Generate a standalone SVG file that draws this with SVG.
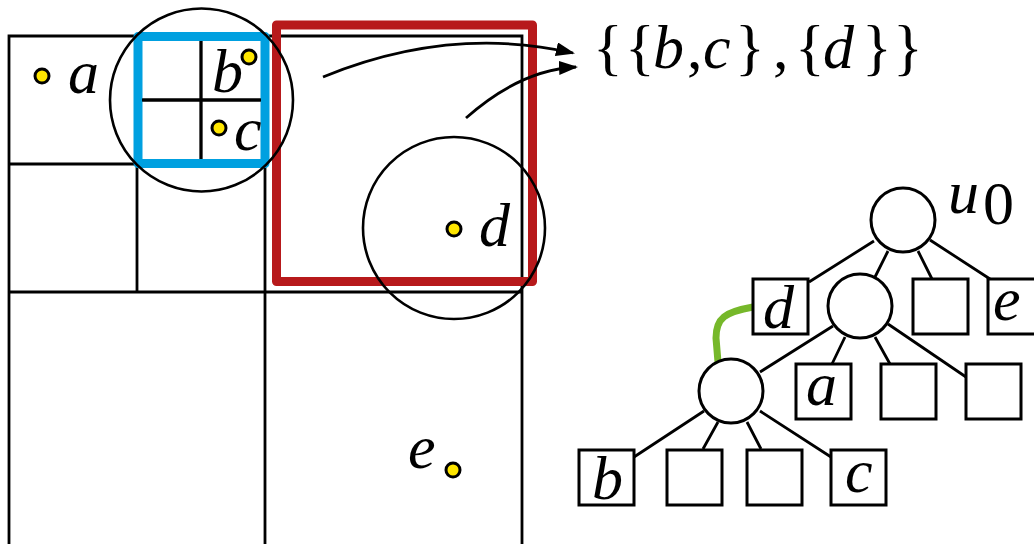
<svg xmlns="http://www.w3.org/2000/svg" width="1034" height="544" viewBox="0 0 1034 544">
<style>
.ln{stroke:#000;stroke-width:2.8;fill:none}
.circ{stroke:#000;stroke-width:2.6;fill:none}
.dot{fill:#ffe600;stroke:#000;stroke-width:3}
.node{fill:#fff;stroke:#000;stroke-width:3}
.edge{stroke:#000;stroke-width:2.8;fill:none}
.m{font-style:italic;font-size:62px;fill:#000}
.r{font-style:normal;font-size:62px;fill:#000}
</style>
<defs>
<marker id="ah" markerUnits="userSpaceOnUse" markerWidth="20" markerHeight="16" refX="17" refY="7" orient="auto">
<path d="M0,0 L19,7 L0,14 Z" fill="#000"/>
</marker>
</defs>
<rect width="1034" height="544" fill="#fff"/>

<g id="grid">
<path class="ln" d="M9,544 V36 H265 M9,164 H265 M137,164 V292 M9,292 H522 M265,36 V544 M265,36 H522 V544 M138,100 H265 M201,36 V164"/>
</g>
<g id="blue-cell">
<rect x="138" y="36.5" width="127" height="127" fill="none" stroke="#00a0e0" stroke-width="9" stroke-linejoin="round"/>
<path class="ln" d="M142,100 H261 M201,41 V159"/>
</g>
<g id="red-cell">
<rect x="276.5" y="25" width="256" height="256.5" fill="none" stroke="#b7191b" stroke-width="9" stroke-linejoin="round"/>
</g>
<g id="query-circles">
<circle class="circ" cx="201.5" cy="100" r="91.5"/>
<circle class="circ" cx="454" cy="228" r="91"/>
</g>
<g font-family="'Liberation Serif', serif">
<g id="points">
<circle class="dot" cx="42" cy="76" r="7"/>
<circle class="dot" cx="249" cy="57" r="7"/>
<circle class="dot" cx="219" cy="128" r="7"/>
<circle class="dot" cx="454" cy="229" r="7"/>
<circle class="dot" cx="453" cy="470" r="7"/>
<text class="m" x="68" y="93">a</text>
<text class="m" x="212" y="92">b</text>
<text class="m" x="234" y="150">c</text>
<text class="m" x="479" y="246">d</text>
<text class="m" x="408" y="468">e</text>
</g>
<g id="result">
<text class="r" y="68"><tspan x="593">{</tspan><tspan x="625">{</tspan><tspan class="m" x="653" font-size="64">b</tspan><tspan x="687">,</tspan><tspan class="m" x="703" font-size="64">c</tspan><tspan x="735">}</tspan><tspan x="773">,</tspan><tspan x="795">{</tspan><tspan class="m" x="823" font-size="64">d</tspan><tspan x="862">}</tspan><tspan x="893">}</tspan></text>
</g>
<g id="arrows">
<path class="edge" d="M323,77 Q450,25 573,53" marker-end="url(#ah)"/>
<path class="edge" d="M466,118 Q520,70 576,67" marker-end="url(#ah)"/>
</g>

<g id="connectors">
<path class="edge" d="M874,241 L809,282 M888,251 L875,277 M918,251 L932,279 M930,240 L990,279"/>
<path class="edge" d="M833,326 L760,372 M845,337 L832,364 M875,337 L890,364 M888,324 L966,377"/>
<path class="edge" d="M704,411 L634,457 M718,422 L703,449 M747,422 L761,449 M760,411 L831,457"/>
<path d="M753,307 C725,312 716,318 716,338 L718,362" fill="none" stroke="#76b82a" stroke-width="7"/>
</g>
<g id="u0">
<circle class="node" cx="903" cy="220" r="32"/>
<text class="m" x="948" y="213" font-size="60">u</text>
<text class="r" x="983" y="224" font-size="36">0</text>
</g>
<g id="leaf-d"><rect class="node" x="753" y="279" width="55" height="55"/><text class="m" x="763" y="328">d</text></g>
<g id="u1"><circle class="node" cx="860" cy="306" r="32"/></g>
<g id="leaf-empty1"><rect class="node" x="913" y="279" width="55" height="55"/></g>
<g id="leaf-e"><rect class="node" x="988" y="279" width="55" height="55"/><text class="m" x="993" y="320">e</text></g>
<g id="u2"><circle class="node" cx="731" cy="391" r="32"/></g>
<g id="leaf-a"><rect class="node" x="796" y="364" width="55" height="55"/><text class="m" x="806" y="405">a</text></g>
<g id="leaf-empty2"><rect class="node" x="881" y="364" width="55" height="55"/></g>
<g id="leaf-empty3"><rect class="node" x="966" y="364" width="55" height="55"/></g>
<g id="leaf-b"><rect class="node" x="579" y="450" width="55" height="55"/><text class="m" x="592" y="499">b</text></g>
<g id="leaf-empty4"><rect class="node" x="667" y="450" width="55" height="55"/></g>
<g id="leaf-empty5"><rect class="node" x="747" y="450" width="55" height="55"/></g>
<g id="leaf-c"><rect class="node" x="831" y="450" width="55" height="55"/><text class="m" x="845" y="492">c</text></g>
</g>
</svg>
